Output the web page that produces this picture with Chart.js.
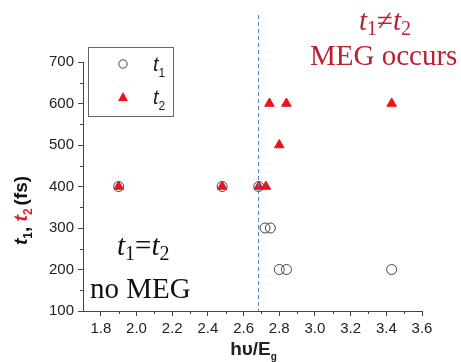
<!DOCTYPE html>
<html>
<head>
<meta charset="utf-8">
<script src="https://cdn.jsdelivr.net/npm/chart.js@4.4.1/dist/chart.umd.min.js"></script>
<style>
  html, body { margin: 0; padding: 0; background: #ffffff; }
  canvas { display: block; }
</style>
</head>
<body>
<canvas id="chartMeg" width="461" height="362"></canvas>
<script>
// datos
const t1X = [1.90, 2.48, 2.685, 2.72, 2.75, 2.80, 2.84, 3.43];
const t1Y = [400, 400, 400, 300, 300, 200, 200, 200];
const t2X = [1.90, 2.48, 2.685, 2.725, 2.80, 2.745, 2.84, 3.43];
const t2Y = [400, 400, 400, 400, 500, 600, 600, 600];

const xTicks = [1.8, 2.0, 2.2, 2.4, 2.6, 2.8, 3.0, 3.2, 3.4, 3.6];
const xMinor = [1.9, 2.1, 2.3, 2.5, 2.7, 2.9, 3.1, 3.3, 3.5];
const yTicks = [100, 200, 300, 400, 500, 600, 700];
const yMinor = [150, 250, 350, 450, 550, 650];
const umbral = 2.68;   // linea discontinua (umbral MEG)

const ROJO = '#e8141c';
const ROJO_TXT = '#bb2230';
const EJE = '#444444';

const puntos = (xs, ys) => xs.map((x, i) => ({ x: x, y: ys[i] }));

// texto con subindices: partes [texto, fuente, color, desplazamiento, espacio extra]
function textoPartes(ctx, partes, x, y) {
    let cx = x;
    partes.forEach(p => {
        ctx.font = p[1];
        ctx.fillStyle = p[2];
        ctx.fillText(p[0], cx, y + (p[3] || 0));
        cx += ctx.measureText(p[0]).width + (p[4] || 0);
    });
    return cx - x;
}
function anchoPartes(ctx, partes) {
    let w = 0;
    partes.forEach(p => { ctx.font = p[1]; w += ctx.measureText(p[0]).width + (p[4] || 0); });
    return w;
}

const extras = {
    id: 'extras',
    afterDraw(chart) {
        const ctx = chart.ctx;
        const xs = chart.scales.x, ys = chart.scales.y;
        ctx.save();
        ctx.textBaseline = 'alphabetic';
        ctx.textAlign = 'left';

        // ticks menores
        ctx.strokeStyle = EJE;
        ctx.lineWidth = 1;
        ctx.beginPath();
        xMinor.forEach(v => {
            const px = Math.round(xs.getPixelForValue(v)) + 0.5;
            ctx.moveTo(px, xs.top); ctx.lineTo(px, xs.top + 3);
        });
        yMinor.forEach(v => {
            const py = Math.round(ys.getPixelForValue(v)) + 0.5;
            ctx.moveTo(ys.right, py); ctx.lineTo(ys.right - 3, py);
        });
        ctx.stroke();

        // linea discontinua azul
        const ux = Math.round(xs.getPixelForValue(umbral)) + 0.5;
        ctx.strokeStyle = '#4a86dc';
        ctx.setLineDash([4, 3]);
        ctx.beginPath();
        ctx.moveTo(ux, 15);
        ctx.lineTo(ux, ys.bottom);
        ctx.stroke();
        ctx.setLineDash([]);

        // leyenda
        ctx.strokeStyle = '#666666';
        ctx.strokeRect(88.5, 47.5, 85, 69);
        ctx.beginPath();
        ctx.arc(123, 64, 4.2, 0, Math.PI * 2);
        ctx.strokeStyle = EJE;
        ctx.stroke();
        ctx.fillStyle = ROJO;
        ctx.beginPath();
        ctx.moveTo(123, 92); ctx.lineTo(128, 101); ctx.lineTo(118, 101);
        ctx.closePath();
        ctx.fill();
        const fT = 'italic 20px "Liberation Sans"', fS = '12px "Liberation Sans"';
        textoPartes(ctx, [['t', fT, '#222'], ['1', fS, '#222', 6]], 153, 71);
        textoPartes(ctx, [['t', fT, '#222'], ['2', fS, '#222', 6]], 153, 104);

        // anotaciones
        const fI = 'italic 29px "Liberation Serif"', fR = '29px "Liberation Serif"', fSub = '20px "Liberation Serif"';
        let p = [['t', fI, ROJO_TXT], ['1', fSub, ROJO_TXT, 5], ['\u2260', fR, ROJO_TXT], ['t', fI, ROJO_TXT], ['2', fSub, ROJO_TXT, 5]];
        textoPartes(ctx, p, 385 - anchoPartes(ctx, p) / 2, 30);
        ctx.font = fR; ctx.fillStyle = ROJO_TXT;
        ctx.fillText('MEG occurs', 310, 65);

        p = [['t', fI, '#111'], ['1', fSub, '#111', 5], ['=', fR, '#111'], ['t', fI, '#111'], ['2', fSub, '#111', 5]];
        textoPartes(ctx, p, 117, 255);
        ctx.font = fR; ctx.fillStyle = '#111';
        ctx.fillText('no MEG', 90, 298);

        // titulo eje x
        const fX = 'bold 19px "Liberation Sans"';
        p = [['h\u03c5/E', fX, '#222'], ['g', 'bold 10px "Liberation Sans"', '#222', 5]];
        textoPartes(ctx, p, (xs.left + xs.right) / 2 + 1 - anchoPartes(ctx, p) / 2, 355);

        // titulo eje y (rotado)
        const fY = 'bold italic 19px "Liberation Sans"', fYs = 'bold 12px "Liberation Sans"', fYn = 'bold 19px "Liberation Sans"';
        p = [['t', fY, '#111'], ['1', fYs, '#111', 5], [', ', fYn, '#111', 2],
             ['t', fY, '#e02020'], ['2', fYs, '#e02020', 5, 3], ['(fs)', fYn, '#111']];
        ctx.translate(27, 0);
        ctx.rotate(-Math.PI / 2);
        textoPartes(ctx, p, -245, 0);
        ctx.restore();
    }
};

Chart.defaults.font.family = '"Liberation Sans", Arial, sans-serif';
Chart.defaults.color = '#222222';

new Chart(document.getElementById('chartMeg').getContext('2d'), {
    type: 'scatter',
    data: {
        datasets: [
            {
                label: 't2',
                data: puntos(t2X, t2Y),
                pointStyle: 'triangle',
                pointRadius: 5.5,
                backgroundColor: ROJO,
                borderColor: ROJO,
                borderWidth: 1
            },
            {
                label: 't1',
                data: puntos(t1X, t1Y),
                pointStyle: 'circle',
                pointRadius: 5,
                backgroundColor: 'rgba(0,0,0,0)',
                borderColor: EJE,
                borderWidth: 1
            }
        ]
    },
    options: {
        responsive: false,
        animation: false,
        layout: { padding: { top: 62, right: 39, left: 0, bottom: 0 } },
        plugins: { legend: { display: false }, tooltip: { enabled: false } },
        scales: {
            x: {
                type: 'linear',
                min: 1.7,
                max: 3.6,
                afterBuildTicks: s => { s.ticks = xTicks.map(v => ({ value: v })); },
                afterFit: s => { s.height = 51; },
                ticks: {
                    callback: v => Number(v).toFixed(1),
                    font: { size: 15 },
                    color: '#222',
                    padding: 4,
                    maxRotation: 0,
                    autoSkip: false
                },
                grid: { drawOnChartArea: false, drawTicks: true, tickLength: 5, tickColor: EJE },
                border: { color: EJE, width: 1 }
            },
            y: {
                type: 'linear',
                min: 100,
                max: 700,
                afterBuildTicks: s => { s.ticks = yTicks.map(v => ({ value: v })); },
                afterFit: s => { s.width = 83; },
                ticks: { font: { size: 15 }, color: '#222', padding: 4, autoSkip: false },
                grid: { drawOnChartArea: false, drawTicks: true, tickLength: 5, tickColor: EJE },
                border: { color: EJE, width: 1 }
            }
        }
    },
    plugins: [extras]
});
</script>
</body>
</html>
